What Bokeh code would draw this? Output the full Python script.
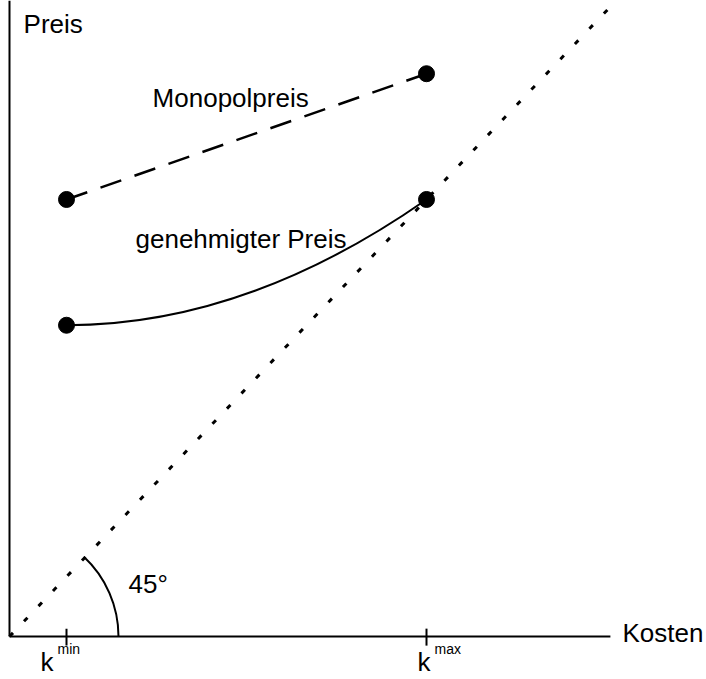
from bokeh.plotting import figure
from bokeh.models import Range1d
from bokeh.core.properties import value
from bokeh.embed import file_html
from bokeh.resources import INLINE

# ---- data (cost units on x, price units on y) ----
kosten = [1.9, 13.9]                 # k_min, k_max
monopolpreis = [13.9, 17.9]          # monopoly price at k_min, k_max
genehmigter_preis = [9.9, 13.9]      # regulated price at k_min, k_max
diagonal = [0.0, 20.2]               # 45° line: price = cost
tick_sub = ["min", "max"]

FONT = value("Liberation Sans")
W, H = 706, 679
SX = 30.0      # px per cost unit
SY = 31.44     # px per price unit
OX, OY = 9, 43  # origin in canvas px (from left, from bottom)

p = figure(width=W, height=H, output_backend="svg", toolbar_location=None,
           x_axis_location=None, y_axis_location=None,
           x_range=Range1d(-OX / SX, (W - OX) / SX),
           y_range=Range1d(-OY / SY, (H - OY) / SY),
           min_border=0, outline_line_color=None, background_fill_color="white")
p.grid.visible = False

# axes
p.line([0, 0], [0, (H - OY) / SY], line_color="black", line_width=2)
p.line([0, 20.03], [0, 0], line_color="black", line_width=2)
# ticks at k_min, k_max
p.segment(x0=kosten, y0=[-0.29] * 2, x1=kosten, y1=[0.25] * 2,
          line_color="black", line_width=2)

# 45° line
p.line(diagonal, diagonal, line_color="black", line_width=3, line_dash="5 16")

# monopoly price (dashed)
p.line(kosten, monopolpreis, line_color="black", line_width=2.5, line_dash="22 14")

# regulated price (convex curve, flat at k_min)
p.quadratic(x0=[kosten[0]], y0=[genehmigter_preis[0]],
            x1=[kosten[1]], y1=[genehmigter_preis[1]],
            cx=[(kosten[0] + kosten[1]) / 2], cy=[genehmigter_preis[0]],
            line_color="black", line_width=2)

# points
p.scatter(kosten, monopolpreis, size=16, color="black")
p.scatter(kosten, genehmigter_preis, size=16, color="black")

# 45° angle arc
p.arc(x=[0], y=[0], radius=109, radius_units="screen",
      start_angle=0, end_angle=0.82, line_color="black", line_width=2)

# labels
p.text(x=[0.47, 4.77, 4.2, 3.97, 20.43],
       y=[19.47, 17.12, 12.63, 1.66, 0.10],
       text=["Preis", "Monopolpreis", "genehmigter Preis", "45°", "Kosten"],
       text_font=FONT, text_font_size="26px", text_baseline="alphabetic",
       text_align="left", text_color="black")
# k labels with superscripts
p.text(x=[kosten[0] - 0.87, kosten[1] - 0.3], y=[-0.82, -0.82], text=["k", "k"],
       text_font=FONT, text_font_size="26px", text_baseline="alphabetic",
       text_align="left", text_color="black")
p.text(x=[kosten[0] - 0.3, kosten[1] + 0.27], y=[-0.41, -0.41], text=tick_sub,
       text_font=FONT, text_font_size="14px", text_baseline="alphabetic",
       text_align="left", text_color="black")

open("out.html", "w").write(file_html(p, INLINE))
